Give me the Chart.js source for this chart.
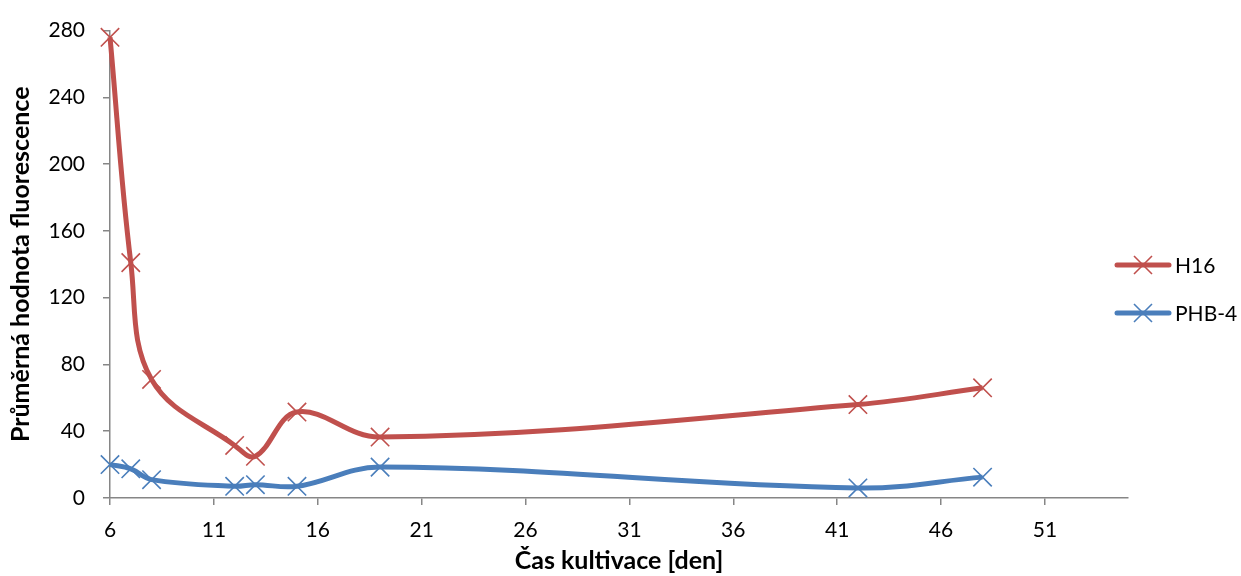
<!DOCTYPE html>
<html>
<head>
<meta charset="utf-8">
<script src="https://cdn.jsdelivr.net/npm/chart.js@4/dist/chart.umd.min.js"></script>
<style>
  html, body { margin: 0; padding: 0; background: #fff; }
  #wrap { width: 1241px; height: 576px; position: relative; }
</style>
</head>
<body>
<div id="wrap"><canvas id="chart"></canvas></div>
<script>
// values
const days = [6, 7, 8, 12, 13, 15, 19, 42, 48];
const h16 = [276, 141, 71, 31.5, 25, 51.5, 36.5, 56, 66];
const phb4 = [20, 17.5, 11, 7, 8, 7, 18.5, 6, 12.5];
const xTicks = [6, 11, 16, 21, 26, 31, 36, 41, 46, 51];
const seriesNames = ["H16", "PHB-4"];

const colors = {
    red: "#c0504d",
    blue: "#4a7ebb",
    axis: "#868686",
    text: "#000000"
};

const toPoints = (ys) => days.map((d, i) => ({ x: d, y: ys[i] }));

function seriesStyle(color) {
    return {
        borderColor: color,
        backgroundColor: color,
        borderWidth: 5,
        tension: 0.38,
        pointStyle: "crossRot",
        pointRadius: 13,
        pointBorderWidth: 1.6,
        pointBorderColor: color,
        clip: false,
        fill: false
    };
}

// legend on the right, drawn as line + cross like the original
const sideLegend = {
    id: "sideLegend",
    afterDraw(chart) {
        const ctx = chart.ctx;
        const items = chart.data.datasets;
        const rows = [265, 313];
        ctx.save();
        items.forEach((ds, i) => {
            const y = rows[i];
            ctx.strokeStyle = ds.borderColor;
            ctx.lineWidth = 5;
            ctx.lineCap = "round";
            ctx.beginPath();
            ctx.moveTo(1117, y);
            ctx.lineTo(1169, y);
            ctx.stroke();
            ctx.lineWidth = 1.6;
            ctx.lineCap = "butt";
            const r = 9;
            ctx.beginPath();
            ctx.moveTo(1143 - r, y - r);
            ctx.lineTo(1143 + r, y + r);
            ctx.moveTo(1143 - r, y + r);
            ctx.lineTo(1143 + r, y - r);
            ctx.stroke();
            ctx.fillStyle = colors.text;
            ctx.font = "21px Lato";
            ctx.textBaseline = "middle";
            ctx.fillText(ds.label, 1175, y + 1);
        });
        ctx.restore();
    }
};

Chart.defaults.font.family = "Lato";
Chart.defaults.color = colors.text;

new Chart(document.getElementById("chart"), {
    type: "line",
    data: {
        datasets: [
            { label: seriesNames[0], data: toPoints(h16), ...seriesStyle(colors.red) },
            { label: seriesNames[1], data: toPoints(phb4), ...seriesStyle(colors.blue) }
        ]
    },
    options: {
        responsive: true,
        maintainAspectRatio: false,
        animation: false,
        layout: { padding: { left: 0, right: 113, top: 25, bottom: 0 } },
        plugins: {
            legend: { display: false },
            tooltip: { enabled: false }
        },
        scales: {
            x: {
                type: "linear",
                min: 6,
                max: 55,
                afterBuildTicks: (axis) => { axis.ticks = xTicks.map((v) => ({ value: v })); },
                afterFit: (axis) => { axis.height = 78; },
                grid: { drawOnChartArea: false, color: colors.axis, tickLength: 7, lineWidth: 1.5 },
                border: { color: colors.axis, width: 1.5 },
                ticks: { font: { size: 21 }, padding: 13, maxRotation: 0, autoSkip: false },
                title: {
                    display: true,
                    text: "Čas kultivace [den]",
                    font: { size: 25, weight: "bold" },
                    padding: { top: 0, bottom: 0 }
                }
            },
            y: {
                min: 0,
                max: 280,
                afterFit: (axis) => { axis.width = 110; },
                grid: { drawOnChartArea: false, color: colors.axis, tickLength: 7, lineWidth: 1.5 },
                border: { color: colors.axis, width: 1.5 },
                ticks: { stepSize: 40, font: { size: 21 }, padding: 18 },
                title: {
                    display: true,
                    text: "Průměrná hodnota fluorescence",
                    font: { size: 25, weight: "bold" },
                    padding: { top: 6, bottom: 0 }
                }
            }
        }
    },
    plugins: [sideLegend]
});
</script>
</body>
</html>
